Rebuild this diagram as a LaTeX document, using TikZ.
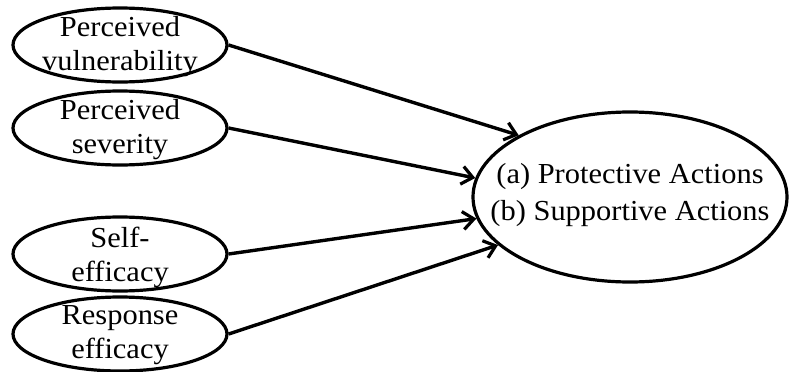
\documentclass[tikz,border=0pt]{standalone}
\usepackage{fontspec}
\setmainfont{Liberation Serif}[FakeStretch=1.05]
\usetikzlibrary{shapes.geometric,arrows.meta}
\tikzset{
  oval/.style={ellipse, draw, line width=3.2pt, inner sep=0pt, minimum width=214pt, minimum height=74pt},
  bigoval/.style={ellipse, draw, line width=3.2pt, inner sep=0pt, minimum width=314pt, minimum height=170pt},
  lbl/.style={align=center, inner sep=0pt, font=\fontsize{29}{34}\selectfont},
  biglbl/.style={align=center, inner sep=0pt, font=\fontsize{29}{37}\selectfont},
  link/.style={line width=3.4pt, -{Straight Barb[length=11pt,width=18pt,line width=3.2pt]}}
}
\begin{document}
\begin{tikzpicture}[x=1pt,y=-1pt]
\useasboundingbox (0,0) rectangle (790,372);
\node[oval] (e1) at (120,45) {};
\node[lbl] (t1) at (120,47) {Perceived\\vulnerability};
\node[oval] (e2) at (120,128) {};
\node[lbl] (t2) at (120,130) {Perceived\\severity};
\node[oval] (e3) at (120,254) {};
\node[lbl] (t3) at (120,257) {Self-\\efficacy};
\node[oval] (e4) at (120,334) {};
\node[lbl] (t4) at (120,335) {Response\\efficacy};
\node[bigoval] (big) at (630,197) {};
\node[biglbl] (tb) at (630,195) {(a) Protective Actions\\(b) Supportive Actions};
\draw[link] (e1.east) -- (big.151);
\draw[link] (e2.east) -- (big.173);
\draw[link] (e3.east) -- (big.188);
\draw[link] (e4.east) -- (big.200);
\end{tikzpicture}
\end{document}
